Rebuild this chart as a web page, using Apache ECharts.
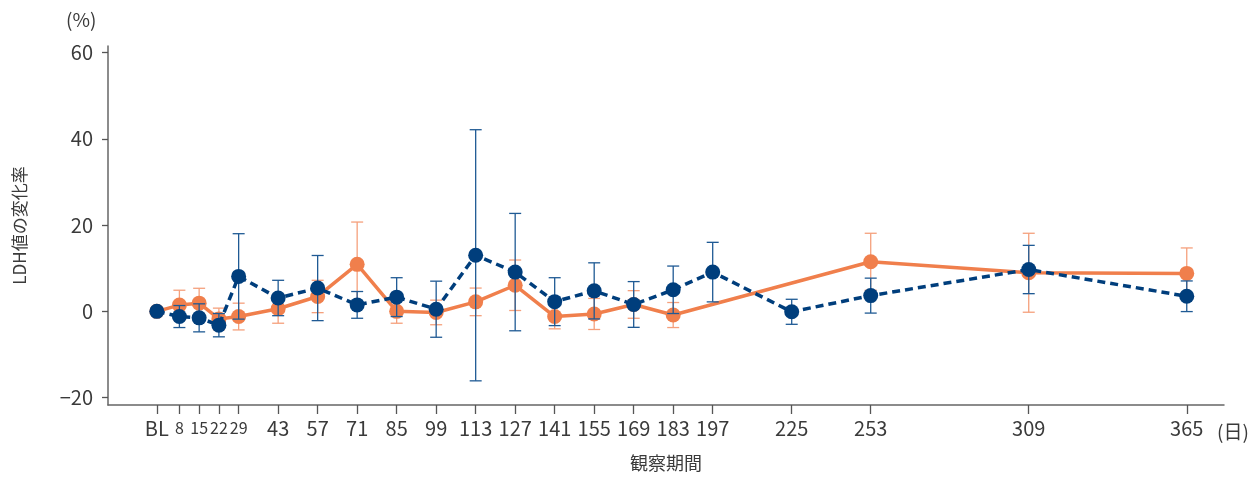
<!DOCTYPE html>
<html>
<head>
<meta charset="utf-8">
<script src="https://cdn.jsdelivr.net/npm/echarts@6/dist/echarts.min.js"></script>
<style>
html,body{margin:0;padding:0;background:#fff;}
#chart{width:1250px;height:477px;}
</style>
</head>
<body>
<div id="chart"></div>
<script>
// Observation days (BL = day 0)
const days = [0, 8, 15, 22, 29, 43, 57, 71, 85, 99, 113, 127, 141, 155, 169, 183, 197, 225, 253, 309, 365];
const tickDays = [0, 8, 15, 22, 29, 43, 57, 71, 85, 99, 113, 127, 141, 155, 169, 183, 197, 225, 253, 309, 365];
const yTicks = [-20, 0, 20, 40, 60];

// Orange series (solid line): mean % change and SD
const orangeMean = [0, 1.45, 1.9, -1.75, -1.2, 0.6, 3.45, 10.9, 0.0, -0.25, 2.2, 6.05, -1.2, -0.6, 1.6, -0.85, null, null, 11.5, 8.95, 8.8];
const orangeSD   = [null, 3.45, 3.45, 2.5, 3.1, 3.35, 3.75, 9.8, 2.75, 2.85, 3.2, 5.85, 2.85, 3.6, 3.2, 2.9, null, null, 6.6, 9.15, 5.9];

// Navy series (dashed line): mean % change and SD
const blueMean = [0, -1.2, -1.5, -3.2, 8.1, 3.1, 5.4, 1.5, 3.3, 0.5, 13.0, 9.1, 2.25, 4.75, 1.6, 5.0, 9.1, -0.1, 3.65, 9.7, 3.5];
const blueSD   = [null, 2.55, 3.25, 2.7, 9.9, 4.1, 7.55, 3.1, 4.5, 6.5, 29.1, 13.6, 5.55, 6.5, 5.3, 5.5, 6.9, 2.9, 4.05, 5.6, 3.55];

const ORANGE = '#f07f4c', ORANGE_ERR = '#f5a07c';
const NAVY = '#003e7c', NAVY_ERR = '#1f5a94';
const TEXT = '#3a3a3a';
const FONT = "'Noto Sans CJK JP',sans-serif";

function lineData(mean) {
  return days.map((d, i) => mean[i] == null ? null : [d, mean[i]]).filter(p => p);
}
function errData(mean, sd) {
  const out = [];
  days.forEach((d, i) => {
    if (mean[i] != null && sd[i] != null) out.push([d, mean[i] - sd[i], mean[i] + sd[i]]);
  });
  return out;
}
function errRender(color) {
  return function (params, api) {
    const x = api.value(0);
    const lo = api.coord([x, api.value(1)]);
    const hi = api.coord([x, api.value(2)]);
    const half = 6;
    const style = { stroke: color, lineWidth: 1.3, fill: null };
    return {
      type: 'group',
      children: [
        { type: 'line', shape: { x1: hi[0], y1: hi[1], x2: lo[0], y2: lo[1] }, style },
        { type: 'line', shape: { x1: hi[0] - half, y1: hi[1], x2: hi[0] + half, y2: hi[1] }, style },
        { type: 'line', shape: { x1: lo[0] - half, y1: lo[1], x2: lo[0] + half, y2: lo[1] }, style }
      ]
    };
  };
}

const chart = echarts.init(document.getElementById('chart'), null, { renderer: 'canvas' });
chart.setOption({
  animation: false,
  backgroundColor: '#fff',
  grid: { left: 108, right: 26, top: 46, bottom: 69, containLabel: false },
  xAxis: {
    type: 'value',
    min: -17.3,
    max: 378.2,
    name: '観察期間',
    nameLocation: 'middle',
    nameGap: 49,
    nameTextStyle: { fontFamily: FONT, fontSize: 18, color: TEXT },
    axisLine: { show: true, onZero: false, lineStyle: { color: '#666', width: 1.5 } },
    axisTick: { show: true, length: 9, customValues: tickDays, lineStyle: { color: '#555', width: 1.3 } },
    splitLine: { show: false },
    axisLabel: {
      customValues: tickDays,
      margin: 13,
      fontFamily: FONT,
      fontSize: 20,
      color: TEXT,
      formatter: function (v) {
        if (v === 0) return 'BL';
        if (v > 0 && v <= 29) return '{s|' + v + '}';
        return String(v);
      },
      rich: { s: { fontFamily: FONT, fontSize: 16, color: TEXT, height: 20 } }
    }
  },
  yAxis: {
    type: 'value',
    min: -21.7,
    max: 61.5,
    name: 'LDH値の変化率',
    nameLocation: 'middle',
    nameGap: 80,
    nameRotate: 90,
    nameTextStyle: { fontFamily: FONT, fontSize: 17, color: TEXT },
    axisLine: { show: true, onZero: false, lineStyle: { color: '#666', width: 1.5 } },
    axisTick: { show: true, length: 6, customValues: yTicks, lineStyle: { color: '#555', width: 1.3 } },
    splitLine: { show: false },
    axisLabel: {
      customValues: yTicks,
      margin: 15,
      fontFamily: FONT,
      fontSize: 20,
      color: TEXT,
      formatter: function (v) { return v < 0 ? '\u2212' + Math.abs(v) : String(v); }
    }
  },
  graphic: [
    { type: 'text', left: 66, top: 10, style: { text: '(%)', font: "19px 'Noto Sans CJK JP'", fill: TEXT } },
    { type: 'text', left: 1217, top: 422, style: { text: '(日)', font: "19px 'Noto Sans CJK JP'", fill: TEXT } }
  ],
  series: [
    {
      type: 'custom',
      name: 'orangeErr',
      renderItem: errRender(ORANGE_ERR),
      data: errData(orangeMean, orangeSD),
      encode: { x: 0, y: [1, 2] },
      z: 1
    },
    {
      type: 'line',
      name: 'orange',
      data: lineData(orangeMean),
      symbol: 'circle',
      symbolSize: 15,
      itemStyle: { color: ORANGE },
      lineStyle: { color: ORANGE, width: 3.5 },
      z: 2
    },
    {
      type: 'custom',
      name: 'navyErr',
      renderItem: errRender(NAVY_ERR),
      data: errData(blueMean, blueSD),
      encode: { x: 0, y: [1, 2] },
      z: 3
    },
    {
      type: 'line',
      name: 'navy',
      data: lineData(blueMean),
      symbol: 'circle',
      symbolSize: 15,
      itemStyle: { color: NAVY },
      lineStyle: { color: NAVY, width: 3.5, type: [8, 5] },
      z: 4
    }
  ]
});
</script>
</body>
</html>
